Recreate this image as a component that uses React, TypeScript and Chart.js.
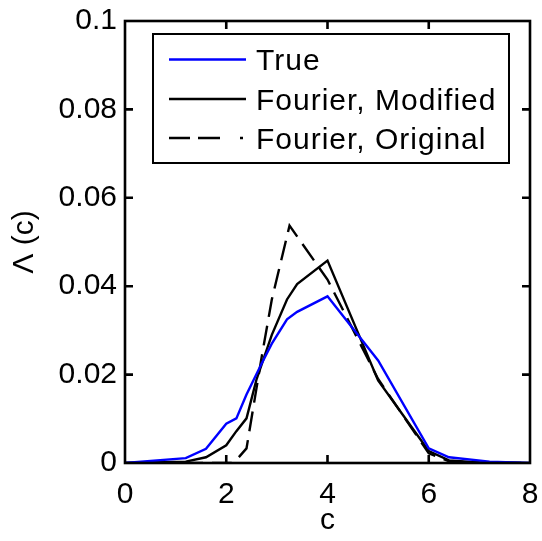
import React, { useEffect, useRef } from 'react';
import { Chart, registerables } from 'chart.js';

Chart.register(...registerables);

// ---------- data ----------
const seriesNames = ['True', 'Fourier, Modified', 'Fourier, Original'];

const trueC = [0, 1.2, 1.6, 2.0, 2.2, 2.4, 2.7, 2.9, 3.2, 3.4, 4.0, 5.0, 6.0, 6.4, 7.2, 8.0];
const trueV = [0, 0.0011, 0.0032, 0.0089, 0.0101, 0.0155, 0.0225, 0.027, 0.0325, 0.0342, 0.0377, 0.0232, 0.0033, 0.0013, 0.0003, 0];

const modC = [0, 1.2, 1.6, 2.0, 2.2, 2.4, 2.6, 2.9, 3.2, 3.4, 4.0, 5.0, 6.0, 6.4, 7.0, 8.0];
const modV = [0, 0.0003, 0.0013, 0.004, 0.0072, 0.0101, 0.019, 0.029, 0.037, 0.0405, 0.0458, 0.0187, 0.0027, 0.0006, 0.0001, 0];

const origC = [0, 2.1, 2.2, 2.4, 2.7, 2.9, 3.25, 4.0, 5.0, 6.0, 6.4, 7.0, 8.0];
const origV = [0, 0, 0.0007, 0.0033, 0.024, 0.037, 0.0537, 0.0415, 0.019, 0.0022, 0.0004, 0.0001, 0];

const xTicks = [0, 2, 4, 6, 8];
const xTickLabels = ['0', '2', '4', '6', '8'];
const yTicks = [0, 0.02, 0.04, 0.06, 0.08, 0.1];
const yTickLabels = ['0', '0.02', '0.04', '0.06', '0.08', '0.1'];
const xTitle = 'c';
const yTitle = 'Λ (c)';

// ---------- styles ----------
const FONT_FAMILY = "'Liberation Sans', Arial, Helvetica, sans-serif";
const FONT_SIZE = 30;
const W = 542;
const H = 541;

const frameTicksPlugin = {
  id: 'frameTicks',
  afterDraw(chart: any) {
    const { ctx, chartArea: a, scales } = chart;
    ctx.save();
    ctx.strokeStyle = '#000';
    ctx.lineWidth = 2.6;
    ctx.lineCap = 'butt';
    ctx.strokeRect(a.left, a.top, a.right - a.left, a.bottom - a.top);
    const tl = 8;
    ctx.beginPath();
    for (const v of xTicks) {
      const x = scales.x.getPixelForValue(v);
      if (x <= a.left + 1 || x >= a.right - 1) continue;
      ctx.moveTo(x, a.bottom);
      ctx.lineTo(x, a.bottom - tl);
      ctx.moveTo(x, a.top);
      ctx.lineTo(x, a.top + tl);
    }
    for (const v of yTicks) {
      const y = scales.y.getPixelForValue(v);
      if (y <= a.top + 1 || y >= a.bottom - 1) continue;
      ctx.moveTo(a.left, y);
      ctx.lineTo(a.left + tl, y);
      ctx.moveTo(a.right, y);
      ctx.lineTo(a.right - tl, y);
    }
    ctx.stroke();
    ctx.restore();
  },
};

const legendBoxPlugin = {
  id: 'legendBox',
  afterDatasetsDraw(chart: any) {
    const { ctx } = chart;
    const box = { left: 153, top: 34, right: 509, bottom: 163 };
    const rows = [59.5, 99, 138];
    const lineX0 = 169;
    const lineX1 = 246;
    const textX = 256;
    ctx.save();
    ctx.fillStyle = '#fff';
    ctx.fillRect(box.left, box.top, box.right - box.left, box.bottom - box.top);
    ctx.strokeStyle = '#000';
    ctx.lineWidth = 2;
    ctx.strokeRect(box.left, box.top, box.right - box.left, box.bottom - box.top);
    chart.data.datasets.forEach((ds: any, i: number) => {
      const y = rows[i];
      ctx.beginPath();
      ctx.strokeStyle = ds.borderColor;
      ctx.lineWidth = ds.borderWidth;
      ctx.setLineDash(ds.borderDash && ds.borderDash.length ? [21, 8, 22, 20, 3, 100] : []);
      ctx.moveTo(lineX0, y);
      ctx.lineTo(lineX1, y);
      ctx.stroke();
      ctx.setLineDash([]);
      ctx.fillStyle = '#000';
      ctx.font = `${FONT_SIZE}px ${FONT_FAMILY}`;
      try {
        (ctx as any).letterSpacing = '1px';
      } catch (e) {
        /* ignore */
      }
      ctx.textBaseline = 'alphabetic';
      ctx.textAlign = 'left';
      ctx.fillText(ds.label, textX, y + 0.358 * FONT_SIZE);
      try {
        (ctx as any).letterSpacing = '0px';
      } catch (e) {
        /* ignore */
      }
    });
    ctx.restore();
  },
};

export default function App() {
  const canvasRef = useRef<HTMLCanvasElement | null>(null);

  useEffect(() => {
    const canvas = canvasRef.current;
    if (!canvas) return;
    const font = { family: FONT_FAMILY, size: FONT_SIZE };
    const chart = new Chart(canvas, {
      type: 'line',
      data: {
        datasets: [
          {
            label: seriesNames[0],
            data: trueC.map((c, i) => ({ x: c, y: trueV[i] })),
            borderColor: '#0000ff',
            borderWidth: 2.4,
            pointRadius: 0,
            tension: 0,
            fill: false,
          },
          {
            label: seriesNames[1],
            data: modC.map((c, i) => ({ x: c, y: modV[i] })),
            borderColor: '#000000',
            borderWidth: 2.4,
            pointRadius: 0,
            tension: 0,
            fill: false,
          },
          {
            label: seriesNames[2],
            data: origC.map((c, i) => ({ x: c, y: origV[i] })),
            borderColor: '#000000',
            borderWidth: 2.4,
            borderDash: [20, 9],
            pointRadius: 0,
            tension: 0,
            fill: false,
          },
        ],
      },
      options: {
        responsive: false,
        animation: false,
        layout: { padding: { top: 21, right: 12, left: 0, bottom: 0 } },
        plugins: {
          legend: { display: false },
          tooltip: { enabled: false },
        },
        scales: {
          x: {
            type: 'linear',
            min: 0,
            max: 8,
            grid: { display: false, drawTicks: false },
            border: { display: false },
            afterBuildTicks: (s: any) => {
              s.ticks = xTicks.map((v) => ({ value: v }));
            },
            afterFit: (s: any) => {
              s.height = 78;
              s.paddingLeft = 0;
              s.paddingRight = 0;
            },
            ticks: {
              font,
              color: '#000',
              padding: 14,
              maxRotation: 0,
              autoSkip: false,
              callback: (_v: any, i: number) => xTickLabels[i],
            },
            title: {
              display: true,
              text: xTitle,
              font,
              color: '#000',
              padding: { top: 0, bottom: 2 },
            },
          },
          y: {
            type: 'linear',
            min: 0,
            max: 0.1,
            grid: { display: false, drawTicks: false },
            border: { display: false },
            afterBuildTicks: (s: any) => {
              s.ticks = yTicks.map((v) => ({ value: v }));
            },
            afterFit: (s: any) => {
              s.width = 125;
              s.paddingTop = 0;
              s.paddingBottom = 0;
            },
            ticks: {
              font,
              color: '#000',
              padding: 8,
              autoSkip: false,
              callback: (_v: any, i: number) => yTickLabels[i],
            },
            title: {
              display: true,
              text: yTitle,
              font,
              color: '#000',
              padding: { top: 7, bottom: 0 },
            },
          },
        },
      },
      plugins: [legendBoxPlugin, frameTicksPlugin],
    });
    return () => chart.destroy();
  }, []);

  return (
    <div style={{ position: 'fixed', left: 0, top: 0, width: W, height: H, background: '#fff' }}>
      <canvas ref={canvasRef} width={W} height={H} />
    </div>
  );
}
